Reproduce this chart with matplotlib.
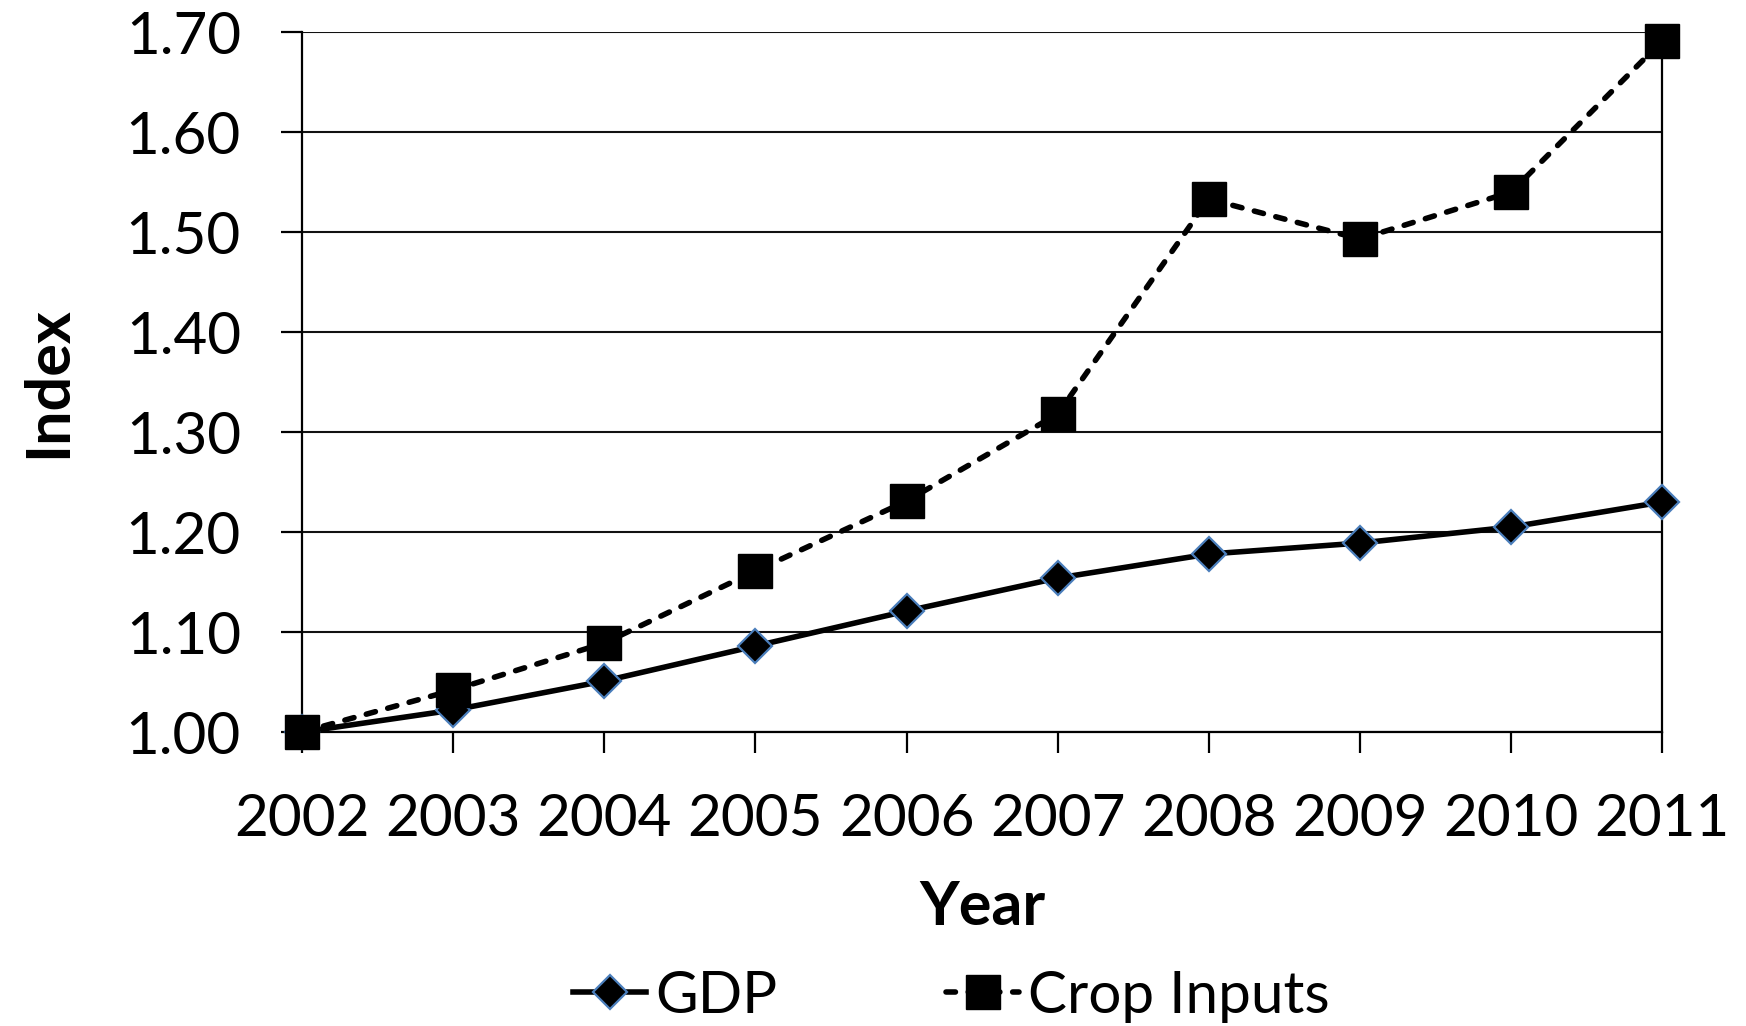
import matplotlib
matplotlib.use("Agg")
import matplotlib.pyplot as plt

# ----------------------
# Data
# ----------------------
years = [2002, 2003, 2004, 2005, 2006, 2007, 2008, 2009, 2010, 2011]
gdp = [1.000, 1.022, 1.051, 1.086, 1.121, 1.154, 1.178, 1.189, 1.205, 1.230]
crop_inputs = [1.000, 1.042, 1.089, 1.161, 1.231, 1.318, 1.533, 1.493, 1.540, 1.691]
y_ticks = [1.00, 1.10, 1.20, 1.30, 1.40, 1.50, 1.60, 1.70]

plt.rcParams["font.family"] = ["Lato", "DejaVu Sans"]

fig = plt.figure(figsize=(17.46, 10.26), dpi=100)
ax = fig.add_axes([0.173, 0.2865, 0.779, 0.6823])

# Gridlines
ax.set_yticks(y_ticks)
ax.set_yticklabels([f"{v:.2f}" for v in y_ticks])
ax.grid(axis="y", color="#111111", linewidth=1.5)
ax.set_axisbelow(True)

# Series
ax.plot(years, gdp, color="black", linewidth=4.0, marker="D", markersize=17,
        markerfacecolor="black", markeredgecolor="#4a7ebb", markeredgewidth=1.6,
        label="GDP", zorder=3, clip_on=False)
ax.plot(years, crop_inputs, color="black", linewidth=4.0, dashes=(1.7, 2.3),
        dash_capstyle="round", marker="s", markersize=24, markerfacecolor="black",
        markeredgecolor="black", label="Crop Inputs", zorder=4, clip_on=False)

ax.set_xlim(years[0], years[-1])
ax.set_ylim(1.00, 1.70)
ax.set_xticks(years)
ax.set_xticklabels([str(y) for y in years])

for side in ["left", "right", "bottom", "top"]:
    ax.spines[side].set_linewidth(1.6)
    ax.spines[side].set_color("black")
ax.spines["top"].set_visible(False)

ax.tick_params(axis="both", direction="out", length=15, width=1.6,
               labelsize=42, colors="black")
ax.tick_params(axis="y", pad=29)
ax.tick_params(axis="x", pad=29)

ax.set_xlabel("Year", fontsize=44, fontweight="bold", labelpad=24)
ax.set_ylabel("Index", fontsize=44, fontweight="bold", labelpad=36)

fig.legend(loc="lower center", bbox_to_anchor=(0.545, -0.048), ncol=2,
           frameon=False, fontsize=42, handlelength=1.25, handletextpad=0.15,
           columnspacing=2.9)

plt.savefig("out.png", dpi=100)
